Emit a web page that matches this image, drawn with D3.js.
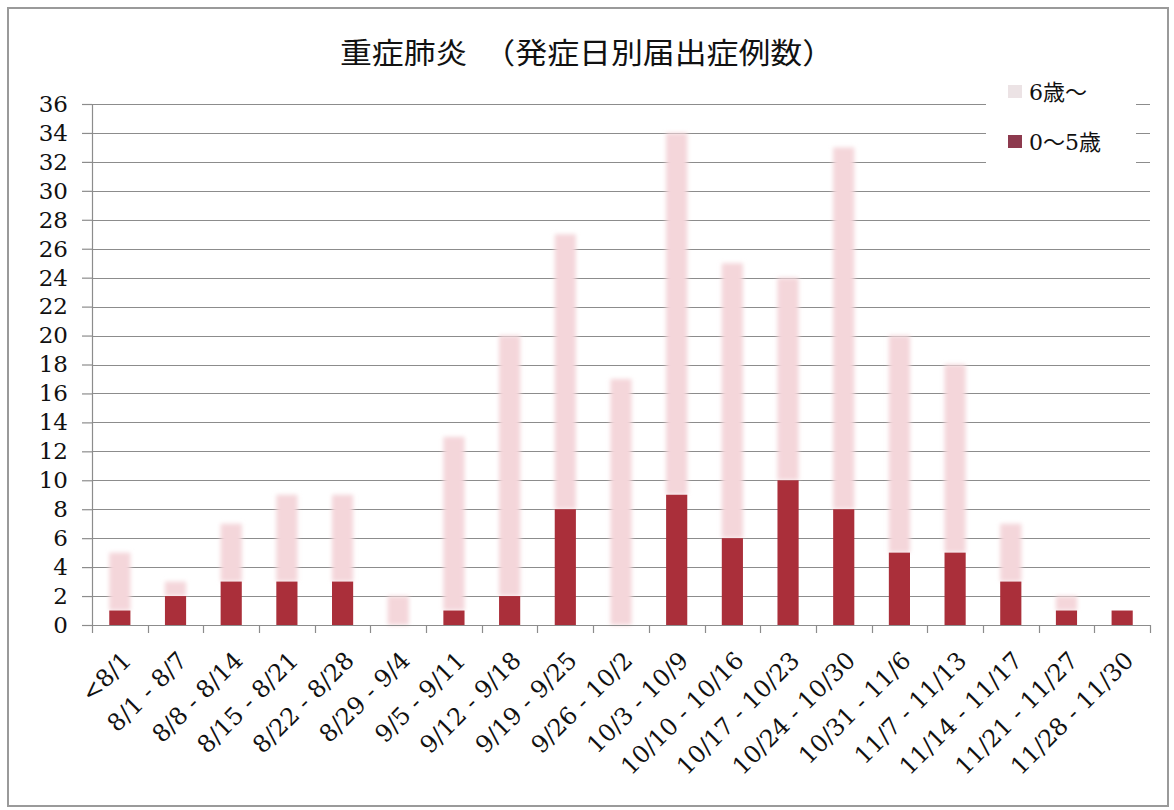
<!DOCTYPE html>
<html>
<head>
<meta charset="utf-8">
<script src="https://cdn.jsdelivr.net/npm/d3@7"></script>
<style>
  html, body { margin: 0; padding: 0; background: #ffffff; }
  svg { display: block; }
</style>
</head>
<body>
<svg id="chart" width="1174" height="810"></svg>
<script>
// Weekly reported cases of severe pneumonia by onset date
const categories = [
  "<8/1", "8/1 - 8/7", "8/8 - 8/14", "8/15 - 8/21", "8/22 - 8/28",
  "8/29 - 9/4", "9/5 - 9/11", "9/12 - 9/18", "9/19 - 9/25", "9/26 - 10/2",
  "10/3 - 10/9", "10/10 - 10/16", "10/17 - 10/23", "10/24 - 10/30", "10/31 - 11/6",
  "11/7 - 11/13", "11/14 - 11/17", "11/21 - 11/27", "11/28 - 11/30"
];
const age0to5 = [1, 2, 3, 3, 3, 0, 1, 2, 8, 0, 9, 6, 10, 8, 5, 5, 3, 1, 1];
const age6plus = [4, 1, 4, 6, 6, 2, 12, 18, 19, 17, 25, 19, 14, 25, 15, 13, 4, 1, 0];
const seriesNames = ["0～5歳", "6歳～"];
const yTicks = d3.range(0, 37, 2);
const titleText = "重症肺炎　（発症日別届出症例数）";

const svg = d3.select("#chart");
const plot = { left: 92, right: 1150, top: 104, bottom: 625 };

// Outer chart frame
svg.append("rect")
  .attr("x", 8).attr("y", 8)
  .attr("width", 1160).attr("height", 798)
  .attr("fill", "#ffffff")
  .attr("stroke", "#9a9a9a")
  .attr("stroke-width", 2);

// Soft edge used for the light segments
const defs = svg.append("defs");
defs.append("filter").attr("id", "soft")
  .attr("x", "-50%").attr("y", "-10%").attr("width", "200%").attr("height", "120%")
  .append("feGaussianBlur").attr("stdDeviation", 2.2);

const x = d3.scaleBand()
  .domain(categories)
  .range([plot.left, plot.right])
  .paddingInner(0.62)
  .paddingOuter(0.31);

const y = d3.scaleLinear()
  .domain([0, 36])
  .range([plot.bottom, plot.top]);

// Horizontal gridlines
svg.append("g").selectAll("line")
  .data(yTicks)
  .join("line")
  .attr("x1", plot.left).attr("x2", plot.right)
  .attr("y1", d => Math.round(y(d)) + 0.5).attr("y2", d => Math.round(y(d)) + 0.5)
  .attr("stroke", "#8c8c8c").attr("stroke-width", 1.2);

// Y axis
const yAxis = svg.append("g")
  .attr("transform", `translate(${plot.left},0)`)
  .call(d3.axisLeft(y).tickValues(yTicks).tickSize(10).tickPadding(14));
yAxis.select(".domain").attr("stroke", "#8c8c8c").attr("stroke-width", 1.2);
yAxis.selectAll(".tick line").attr("stroke", "#8c8c8c").attr("stroke-width", 1.2);
yAxis.selectAll(".tick text")
  .attr("font-family", "'DejaVu Serif', 'Liberation Serif', serif")
  .attr("font-size", 23)
  .attr("fill", "#111");

// Stacked bars
const stackData = categories.map((c, i) => ({ cat: c, young: age0to5[i], older: age6plus[i] }));
const stack = d3.stack().keys(["young", "older"])(stackData);
const colors = { young: "#aa2f3a", older: "#f4d6da" };

svg.append("g")
  .attr("filter", "url(#soft)")
  .selectAll("rect")
  .data(stack[1])
  .join("rect")
  .attr("x", d => x(d.data.cat))
  .attr("width", x.bandwidth())
  .attr("y", d => y(d[1]))
  .attr("height", d => y(d[0]) - y(d[1]))
  .attr("fill", colors.older);

svg.append("g")
  .selectAll("rect")
  .data(stack[0])
  .join("rect")
  .attr("x", d => x(d.data.cat))
  .attr("width", x.bandwidth())
  .attr("y", d => y(d[1]))
  .attr("height", d => y(d[0]) - y(d[1]))
  .attr("fill", colors.young);

// X axis baseline and category dividers
svg.append("line")
  .attr("x1", plot.left).attr("x2", plot.right)
  .attr("y1", plot.bottom + 0.5).attr("y2", plot.bottom + 0.5)
  .attr("stroke", "#8c8c8c").attr("stroke-width", 1.2);
const step = x.step();
const dividers = categories.map(c => x(c) + x.bandwidth() / 2 - step / 2).concat([plot.right]);
svg.append("g").selectAll("line")
  .data(dividers)
  .join("line")
  .attr("x1", d => Math.round(d) + 0.5).attr("x2", d => Math.round(d) + 0.5)
  .attr("y1", plot.bottom).attr("y2", plot.bottom + 8)
  .attr("stroke", "#8c8c8c").attr("stroke-width", 1.2);

// Category labels, rotated
const xAxis = svg.append("g")
  .attr("transform", `translate(0,${plot.bottom})`)
  .call(d3.axisBottom(x).tickSize(0));
xAxis.select(".domain").remove();
xAxis.selectAll(".tick text")
  .attr("font-family", "'DejaVu Serif', 'Liberation Serif', serif")
  .attr("font-size", 24)
  .attr("fill", "#111")
  .attr("text-anchor", "end")
  .attr("x", 0).attr("y", 0).attr("dy", 0)
  .attr("transform", "translate(13,37) rotate(-45)");

// Title
svg.append("text")
  .attr("x", 587).attr("y", 64)
  .attr("text-anchor", "middle")
  .attr("font-family", "'Noto Sans CJK JP', sans-serif")
  .attr("font-size", 29)
  .attr("fill", "#111")
  .attr("transform", "translate(587,0) scale(1.1,1) translate(-587,0)")
  .text(titleText);

// Legend
const lg = svg.append("g");
lg.append("rect")
  .attr("x", 986).attr("y", 70).attr("width", 150).attr("height", 108)
  .attr("fill", "#ffffff");
const legendItems = [
  { name: seriesNames[1], color: "#ece3e5", y: 92 },
  { name: seriesNames[0], color: "#8d3a4e", y: 142 }
];
legendItems.forEach(it => {
  lg.append("rect")
    .attr("x", 1008).attr("y", it.y - 7).attr("width", 14).attr("height", 13)
    .attr("fill", it.color);
  lg.append("text")
    .attr("x", 1029).attr("y", it.y + 8)
    .attr("font-family", "'DejaVu Serif', 'Noto Sans CJK JP', serif")
    .attr("font-size", 22)
    .attr("fill", "#111")
    .text(it.name);
});
</script>
</body>
</html>
